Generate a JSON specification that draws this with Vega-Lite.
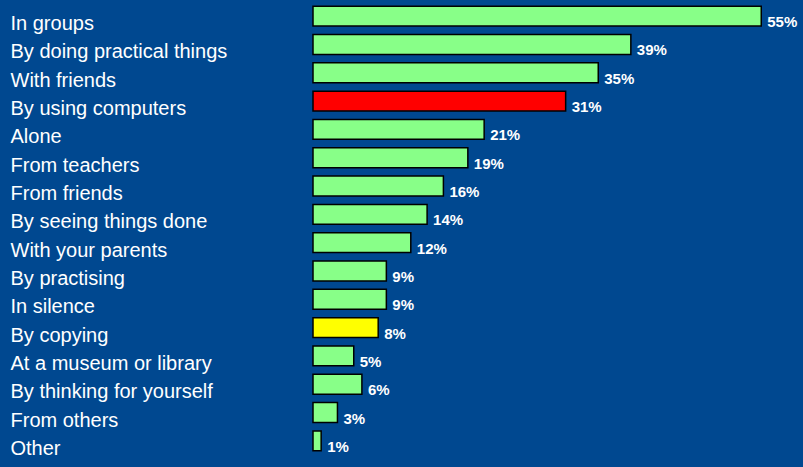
{
  "$schema": "https://vega.github.io/schema/vega-lite/v6.json",
  "width": 489,
  "height": 453,
  "autosize": {"type": "none"},
  "padding": {"left": 313, "top": 2, "right": 1, "bottom": 12},
  "background": "#004890",
  "config": {"view": {"stroke": null}},
  "data": {
    "values": [
      {"way": "In groups", "pct": 0.55, "group": "normal"},
      {"way": "By doing practical things", "pct": 0.39, "group": "normal"},
      {"way": "With friends", "pct": 0.35, "group": "normal"},
      {"way": "By using computers", "pct": 0.31, "group": "computers"},
      {"way": "Alone", "pct": 0.21, "group": "normal"},
      {"way": "From teachers", "pct": 0.19, "group": "normal"},
      {"way": "From friends", "pct": 0.16, "group": "normal"},
      {"way": "By seeing things done", "pct": 0.14, "group": "normal"},
      {"way": "With your parents", "pct": 0.12, "group": "normal"},
      {"way": "By practising", "pct": 0.09, "group": "normal"},
      {"way": "In silence", "pct": 0.09, "group": "normal"},
      {"way": "By copying", "pct": 0.08, "group": "copying"},
      {"way": "At a museum or library", "pct": 0.05, "group": "normal"},
      {"way": "By thinking for yourself", "pct": 0.06, "group": "normal"},
      {"way": "From others", "pct": 0.03, "group": "normal"},
      {"way": "Other", "pct": 0.01, "group": "normal"}
    ]
  },
  "encoding": {
    "y": {
      "field": "way",
      "type": "nominal",
      "sort": null,
      "scale": {"paddingInner": 0.3, "paddingOuter": 0.15},
      "axis": {
        "title": null,
        "domain": false,
        "ticks": false,
        "labelAlign": "left",
        "labelPadding": 303,
        "labelFontSize": 20,
        "labelFont": "Liberation Sans",
        "labelColor": "white",
        "labelBaseline": "middle",
        "labelOffset": 8,
        "labelLimit": 0
      }
    },
    "x": {
      "field": "pct",
      "type": "quantitative",
      "scale": {"domain": [0, 0.6]},
      "axis": null
    }
  },
  "layer": [
    {
      "mark": {"type": "bar", "stroke": "black", "strokeWidth": 1.5},
      "encoding": {
        "color": {
          "field": "group",
          "type": "nominal",
          "scale": {"domain": ["normal", "computers", "copying"], "range": ["#88FF88", "#FF0000", "#FFFF00"]},
          "legend": null
        }
      }
    },
    {
      "mark": {"type": "text", "align": "left", "baseline": "middle", "dx": 6, "dy": 6, "font": "Liberation Sans", "fontWeight": "bold", "fontSize": 15, "color": "white"},
      "encoding": {
        "text": {"field": "pct", "type": "quantitative", "format": ".0%"}
      }
    }
  ]
}
